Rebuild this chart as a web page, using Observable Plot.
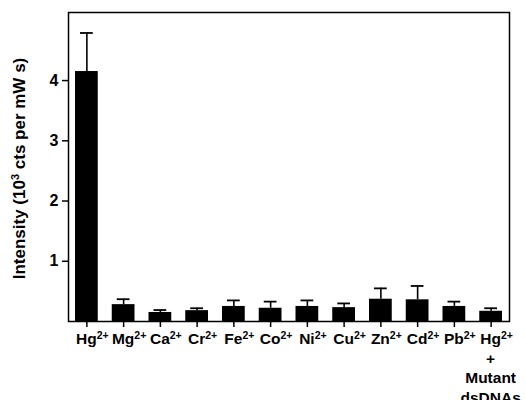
<!DOCTYPE html>
<html>
<head>
<meta charset="utf-8">
<script src="https://cdn.jsdelivr.net/npm/d3@7"></script>
<script src="https://cdn.jsdelivr.net/npm/@observablehq/plot@0.6"></script>
<style>
  html, body { margin: 0; padding: 0; background: white; }
  svg { display: block; }
</style>
</head>
<body>
<script>
// Categories (ions) and tick label lines
const categories = ["Hg2+", "Mg2+", "Ca2+", "Cr2+", "Fe2+", "Co2+", "Ni2+", "Cu2+", "Zn2+", "Cd2+", "Pb2+", "Hg2+ + Mutant dsDNAs"];
const tickLines = [["Hg2+"], ["Mg2+"], ["Ca2+"], ["Cr2+"], ["Fe2+"], ["Co2+"], ["Ni2+"], ["Cu2+"], ["Zn2+"], ["Cd2+"], ["Pb2+"], ["Hg2+", "+", "Mutant", "dsDNAs"]];
// Intensity (10^3 cts per mW s) and error (upper error bar length)
const intensity = [4.15, 0.28, 0.15, 0.18, 0.25, 0.22, 0.25, 0.23, 0.37, 0.36, 0.25, 0.17];
const errors    = [0.64, 0.09, 0.04, 0.04, 0.10, 0.11, 0.10, 0.07, 0.18, 0.23, 0.08, 0.05];
const yTicks = [1, 2, 3, 4];
const yLabelMain = "Intensity (10";
const yLabelSup = "3";
const yLabelRest = " cts per mW s)";

const data = categories.map((c, i) => ({ion: c, value: intensity[i], top: intensity[i] + errors[i]}));

const font = "'Liberation Sans', Arial, Helvetica, sans-serif";

const chart = Plot.plot({
  width: 526,
  height: 400,
  marginLeft: 68,
  marginRight: 17,
  marginTop: 12,
  marginBottom: 79,
  style: {fontFamily: font, fontWeight: "bold", fontSize: "16px", color: "black", background: "white"},
  x: {domain: categories, padding: 0, round: false, label: null},
  y: {domain: [0, 5.13], label: null},
  marks: [
    Plot.barY(data, {x: "ion", y: "value", fill: "black", insetLeft: 7, insetRight: 7}),
    Plot.ruleX(data, {x: "ion", y1: "value", y2: "top", stroke: "black", strokeWidth: 1.6}),
    Plot.tickY(data, {x: "ion", y: "top", stroke: "black", strokeWidth: 1.8, insetLeft: 12, insetRight: 12}),
    Plot.axisY({ticks: yTicks, tickSize: 6, tickPadding: 4, label: null, tickFormat: d => String(d), strokeWidth: 1.5}),
    Plot.axisX({tickSize: 6, tickPadding: 4, label: null, strokeWidth: 1.5}),
    Plot.frame({stroke: "black", strokeWidth: 1.5})
  ]
});
document.body.append(chart);

const svg = d3.select(chart.tagName.toLowerCase() === "svg" ? chart : chart.querySelector("svg"));
const xs = chart.scale("x");

// Y tick labels size
svg.selectAll('g[aria-label="y-axis tick label"] text').style("font-size", "16px").style("font-weight", "bold");

// Rebuild x tick labels with superscript charges
const baselines = [343.5, 363.5, 383, 402.5];
const xLabelGroup = svg.select('g[aria-label="x-axis tick label"]').attr("transform", null);
xLabelGroup.selectAll("text").each(function(d, i) {
  const t = d3.select(this);
  const cx = xs.apply(categories[i]) + xs.bandwidth / 2;
  t.attr("transform", `translate(${cx},0)`).attr("x", null).attr("y", null).attr("dy", null)
   .attr("text-anchor", "start")
   .style("font-size", "15.5px").style("font-weight", "bold").style("font-family", font);
  t.selectAll("*").remove();
  t.text(null);
  const lines = tickLines[i] || [];
  lines.forEach((line, li) => {
    const mm = /^(.*?)(\d\+)?$/.exec(line);
    const base = mm[1];
    const sup = mm[2];
    const b = t.append("tspan").attr("y", baselines[li]).text(base);
    const w = b.node().getComputedTextLength();
    b.attr("x", -w / 2);
    if (sup) {
      t.append("tspan").attr("dy", -5).style("font-size", "10.5px").text(sup);
    }
  });
});

// Y axis title
const yl = svg.append("text")
  .attr("transform", "translate(25,168.5) rotate(-90)")
  .attr("text-anchor", "middle")
  .attr("fill", "black")
  .style("font-family", font)
  .style("font-weight", "bold")
  .style("font-size", "17px");
yl.append("tspan").text(yLabelMain);
yl.append("tspan").attr("dy", -6).style("font-size", "11px").text(yLabelSup);
yl.append("tspan").attr("dy", 6).text(yLabelRest);
</script>
</body>
</html>
